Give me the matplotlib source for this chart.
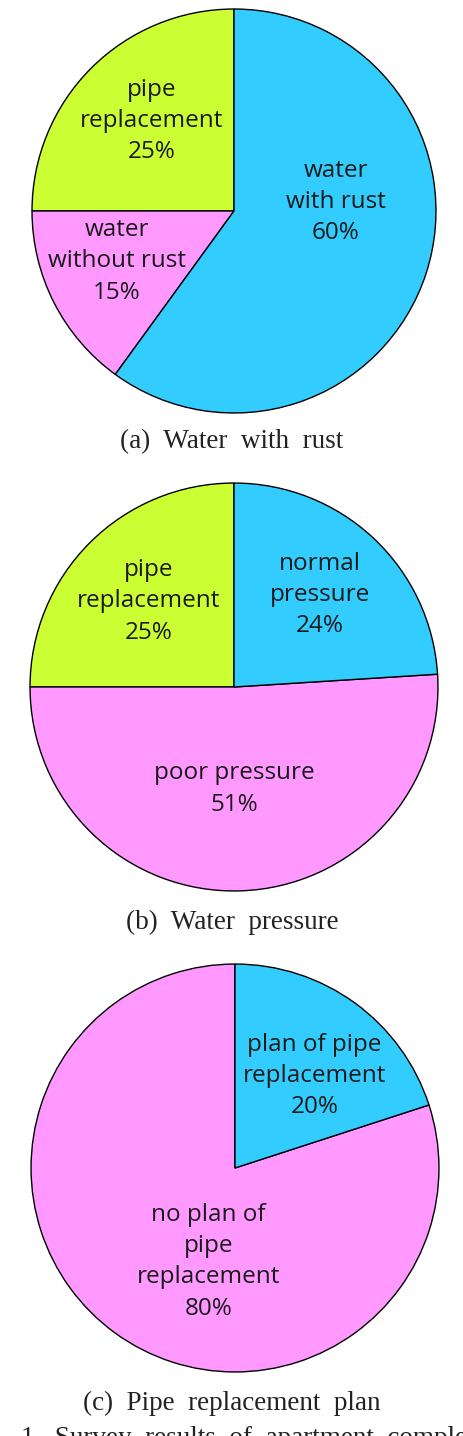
import matplotlib.pyplot as plt

# pie data, counterclockwise from 12 o'clock
rust_labels = ['pipe\nreplacement\n25%', 'water\nwithout rust\n15%', 'water\nwith rust\n60%']
rust_values = [25, 15, 60]
pressure_labels = ['pipe\nreplacement\n25%', 'poor pressure\n51%', 'normal\npressure\n24%']
pressure_values = [25, 51, 24]
plan_labels = ['no plan of\npipe\nreplacement\n80%', 'plan of pipe\nreplacement\n20%']
plan_values = [80, 20]
captions = ['(a)  Water  with  rust', '(b)  Water  pressure', '(c)  Pipe  replacement  plan']

CYAN = '#33ccff'
PINK = '#ff99ff'
LIME = '#ccff33'

W, H = 464, 1436
fig = plt.figure(figsize=(W / 100, H / 100), dpi=100)
fig.patch.set_facecolor('white')

label_font = 'Open Sans'
cap_font = 'Liberation Serif'


def draw_pie(cx, cy, r, values, labels, colors, label_pos):
    # cx, cy, r in pixels (y from the top)
    ax = fig.add_axes([(cx - r) / W, (H - cy - r) / H, 2 * r / W, 2 * r / H])
    ax.pie(values, colors=colors, startangle=90, counterclock=True,
           wedgeprops=dict(edgecolor='black', linewidth=1.0))
    for lab, (x, y) in zip(labels, label_pos):
        ax.text(x, y, lab, ha='center', va='center', fontsize=17.5,
                family=label_font, color='#1a1a1a', linespacing=1.4)
    ax.set_xlim(-1.01, 1.01)
    ax.set_ylim(-1.01, 1.01)
    ax.axis('off')
    return ax


draw_pie(234, 211, 204, rust_values, rust_labels, [LIME, PINK, CYAN],
         [(-0.41, 0.445), (-0.58, -0.25), (0.505, 0.045)])
draw_pie(234, 687, 206, pressure_values, pressure_labels, [LIME, PINK, CYAN],
         [(-0.42, 0.42), (0.0, -0.50), (0.42, 0.45)])
draw_pie(235, 1168, 206, plan_values, plan_labels, [PINK, CYAN],
         [(-0.13, -0.46), (0.39, 0.45)])

for cap, y in zip(captions, [442, 922, 1403]):
    fig.text(0.5, 1 - y / H, cap, ha='center', va='center', fontsize=19.5,
             family=cap_font, color='#222222')

# first line of the figure caption, cut off by the page edge
fig.text(21 / W, 1 - 1445 / H, '1.  Survey  results  of  apartment  complex',
         ha='left', va='baseline', fontsize=19.5, family=cap_font, color='#222222')

fig.savefig('out.png', dpi=100)
